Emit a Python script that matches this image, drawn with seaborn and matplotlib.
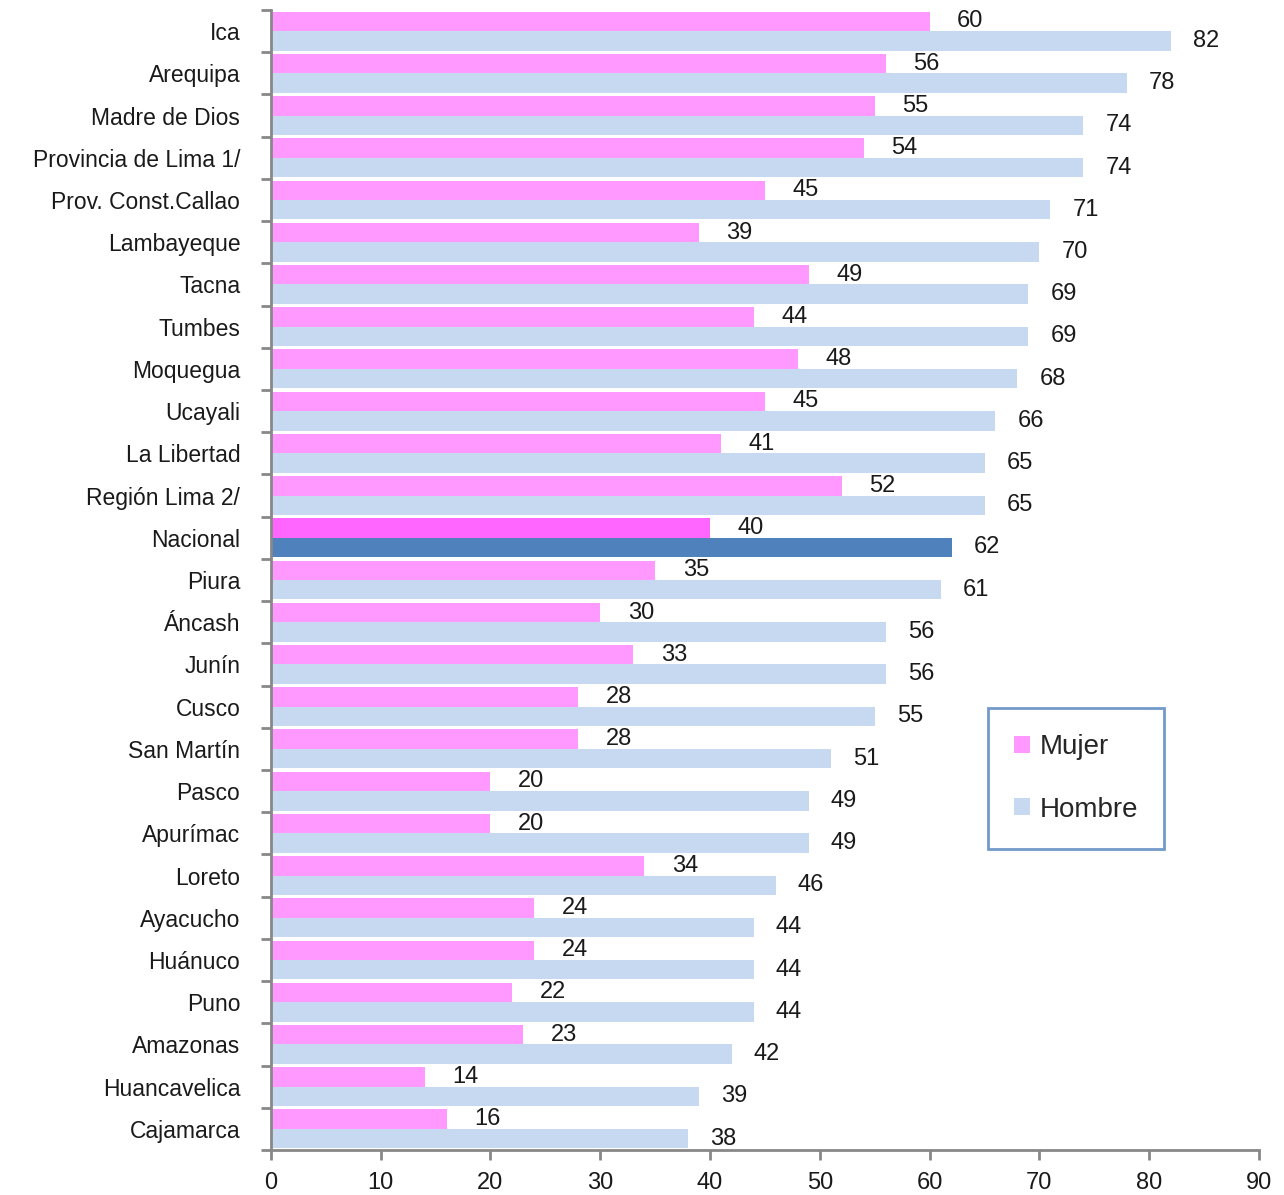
import matplotlib
matplotlib.use("Agg")
import matplotlib.pyplot as plt
import seaborn as sns
import pandas as pd
import numpy as np
from matplotlib.ticker import FixedLocator
from matplotlib.patches import Patch

regiones = ["Ica", "Arequipa", "Madre de Dios", "Provincia de Lima 1/", "Prov. Const.Callao",
            "Lambayeque", "Tacna", "Tumbes", "Moquegua", "Ucayali", "La Libertad",
            "Región Lima 2/", "Nacional", "Piura", "Áncash", "Junín", "Cusco", "San Martín",
            "Pasco", "Apurímac", "Loreto", "Ayacucho", "Huánuco", "Puno", "Amazonas",
            "Huancavelica", "Cajamarca"]
mujer = [60, 56, 55, 54, 45, 39, 49, 44, 48, 45, 41, 52, 40, 35, 30, 33, 28, 28, 20, 20,
         34, 24, 24, 22, 23, 14, 16]
hombre = [82, 78, 74, 74, 71, 70, 69, 69, 68, 66, 65, 65, 62, 61, 56, 56, 55, 51, 49, 49,
          46, 44, 44, 44, 42, 39, 38]
series = ["Mujer", "Hombre"]
destacado = "Nacional"
xticks = [0, 10, 20, 30, 40, 50, 60, 70, 80, 90]

c_mujer = "#FF99FF"
c_hombre = "#C6D9F1"
c_mujer_nac = "#FF66FF"
c_hombre_nac = "#4F81BD"

df = pd.DataFrame({
    "region": regiones * 2,
    "valor": mujer + hombre,
    "sexo": ["Mujer"] * len(regiones) + ["Hombre"] * len(regiones),
})

sns.set_style("white")
plt.rcParams["font.family"] = ["Liberation Sans", "DejaVu Sans"]

fig = plt.figure(figsize=(12.84, 11.95), dpi=100)
ax = fig.add_axes([0.211, 0.0377, 0.7695, 0.9539])

sns.barplot(data=df, y="region", x="valor", hue="sexo", order=regiones, hue_order=series,
            palette={"Mujer": c_mujer, "Hombre": c_hombre}, orient="h", width=0.92,
            dodge=True, ax=ax, legend=False, saturation=1, linewidth=0)

idx = regiones.index(destacado)
ax.containers[0].patches[idx].set_facecolor(c_mujer_nac)
ax.containers[1].patches[idx].set_facecolor(c_hombre_nac)

for k, cont in enumerate(ax.containers):
    vals = mujer if k == 0 else hombre
    off = 2.5 if k == 0 else 2.0
    for p, v in zip(cont.patches, vals):
        yc = p.get_y() + p.get_height() / 2
        ax.text(v + off, yc, f"{v}", ha="left", va="center", fontsize=17, color="#1a1a1a")

ax.set_xlim(0, 90)
ax.set_ylim(len(regiones) - 0.5, -0.5)
ax.set_xticks(xticks)
ax.set_xticklabels([str(t) for t in xticks], fontsize=17, color="#1a1a1a")
ax.set_xlabel("")
ax.set_ylabel("")
ax.tick_params(axis="y", which="major", length=0, pad=22, labelsize=16.5, labelcolor="#1a1a1a")
ax.yaxis.set_minor_locator(FixedLocator(np.arange(-0.5, len(regiones) + 0.5, 1)))
ax.tick_params(axis="y", which="minor", left=True, length=7, width=2, color="#888888")
ax.tick_params(axis="x", which="major", bottom=True, length=7, width=2, color="#888888", pad=9)

for s in ["top", "right"]:
    ax.spines[s].set_visible(False)
for s in ["left", "bottom"]:
    ax.spines[s].set_color("#888888")
    ax.spines[s].set_linewidth(2)

handles = [Patch(facecolor=c_mujer, edgecolor="none"), Patch(facecolor=c_hombre, edgecolor="none")]
leg = ax.legend(handles, series, loc="upper left", bbox_to_anchor=(0.7257, 0.3877),
                fontsize=20, frameon=True, fancybox=False, handlelength=0.55, handleheight=0.55,
                labelspacing=1.3, borderpad=0.95, handletextpad=0.35, borderaxespad=0)
leg.get_frame().set_edgecolor("#4F81BD")
leg.get_frame().set_linewidth(2)

fig.savefig("out.png", dpi=100)
